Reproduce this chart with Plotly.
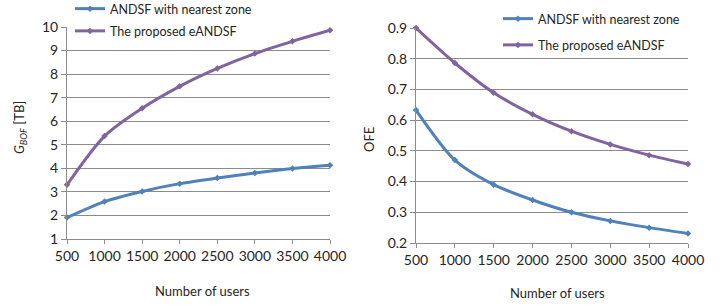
import plotly.graph_objects as go

users = [500, 1000, 1500, 2000, 2500, 3000, 3500, 4000]
gbof_nearest = [1.91, 2.59, 3.02, 3.35, 3.59, 3.80, 3.99, 4.13]
gbof_proposed = [3.30, 5.37, 6.55, 7.48, 8.24, 8.87, 9.39, 9.86]
ofe_nearest = [0.633, 0.470, 0.390, 0.340, 0.300, 0.272, 0.250, 0.231]
ofe_proposed = [0.900, 0.786, 0.689, 0.619, 0.564, 0.521, 0.486, 0.457]

name_nearest = "ANDSF with nearest zone"
name_proposed = "The proposed eANDSF"
xtitle = "Number of users"
ytitle_left = "<i>G</i><sub><i>BOF</i></sub> [TB]"
ytitle_right = "OFE"

blue = "#4F81BD"
purple = "#8064A2"
font = "Lato, 'Open Sans', sans-serif"
grid = "#8c8c8c"
textc = "#262626"

W, H = 724, 307
MT, MB = 27, 64
PH = H - MT - MB  # plot-area height in px


def py(px):
    """pixel row (from top of page) -> paper y fraction"""
    return (H - MB - px) / PH


fig = go.Figure()


def add(x, y, name, color, xa, ya, legend, group):
    fig.add_trace(go.Scatter(
        x=x, y=y, name=name, mode="lines+markers",
        line=dict(color=color, width=3, shape="spline", smoothing=0.8),
        marker=dict(symbol="diamond", size=5, color=color),
        xaxis=xa, yaxis=ya, legend=legend, legendgroup=group,
        cliponaxis=False,
    ))


add(users, gbof_nearest, name_nearest, blue, "x", "y", "legend", "a")
add(users, gbof_proposed, name_proposed, purple, "x", "y", "legend", "b")
add(users, ofe_nearest, name_nearest, blue, "x2", "y2", "legend2", "c")
add(users, ofe_proposed, name_proposed, purple, "x2", "y2", "legend2", "d")

xcommon = dict(
    range=[500, 4000], tickvals=users, showgrid=False, showline=True,
    linecolor=grid, linewidth=1, ticks="outside", ticklen=4, tickcolor=grid,
    tickfont=dict(family=font, size=14, color=textc), zeroline=False,
    automargin=False,
)
ycommon = dict(
    showgrid=True, gridcolor=grid, gridwidth=1, showline=True,
    linecolor=grid, linewidth=1, ticks="outside", ticklen=5, tickcolor=grid,
    tickfont=dict(family=font, size=14, color=textc), zeroline=False,
    automargin=False,
)

tfont = dict(family=font, size=13, color=textc)
annotations = [
    dict(text=xtitle, xref="paper", yref="paper", x=203 / W, y=py(291),
         showarrow=False, font=tfont, xanchor="center", yanchor="middle"),
    dict(text=xtitle, xref="paper", yref="paper", x=557 / W, y=py(293),
         showarrow=False, font=tfont, xanchor="center", yanchor="middle"),
    dict(text=ytitle_left, xref="paper", yref="paper", x=20 / W, y=py(128),
         showarrow=False, font=tfont, textangle=-90, xanchor="center", yanchor="middle"),
    dict(text=ytitle_right, xref="paper", yref="paper", x=369 / W, y=py(140),
         showarrow=False, font=tfont, textangle=-90, xanchor="center", yanchor="middle"),
]

# white patches behind the legends that hide the top gridline (as in the reference)
shapes = [
    dict(type="rect", xref="paper", yref="paper", layer="between",
         x0=68 / W, x1=250 / W, y0=py(40), y1=py(15),
         fillcolor="white", line=dict(width=0)),
    dict(type="rect", xref="paper", yref="paper", layer="between",
         x0=489 / W, x1=688 / W, y0=py(40), y1=py(15),
         fillcolor="white", line=dict(width=0)),
]

fig.update_layout(
    width=W, height=H,
    margin=dict(l=0, r=0, t=MT, b=MB, autoexpand=False),
    paper_bgcolor="white", plot_bgcolor="white",
    showlegend=True,
    xaxis=dict(domain=[67 / W, 330 / W], anchor="y", **xcommon),
    yaxis=dict(domain=[py(239), py(27)], anchor="x", range=[1, 10], dtick=1, **ycommon),
    xaxis2=dict(domain=[416 / W, 688 / W], anchor="y2", **xcommon),
    yaxis2=dict(domain=[py(243), py(28)], anchor="x2", range=[0.2, 0.9], dtick=0.1,
                tickformat=".1f", **ycommon),
    legend=dict(x=70 / W, y=py(-6), xanchor="left", yanchor="top",
                bgcolor="rgba(0,0,0,0)", font=dict(family=font, size=12.5, color=textc),
                tracegroupgap=3, itemclick=False, itemdoubleclick=False),
    legend2=dict(x=498 / W, y=py(4), xanchor="left", yanchor="top",
                 bgcolor="rgba(0,0,0,0)", font=dict(family=font, size=12.5, color=textc),
                 tracegroupgap=7, itemclick=False, itemdoubleclick=False),
    annotations=annotations,
    shapes=shapes,
)

fig.write_html(
    "out.html",
    config={"displayModeBar": False},
    post_script="document.body.style.margin='0';document.body.style.padding='0';",
)
